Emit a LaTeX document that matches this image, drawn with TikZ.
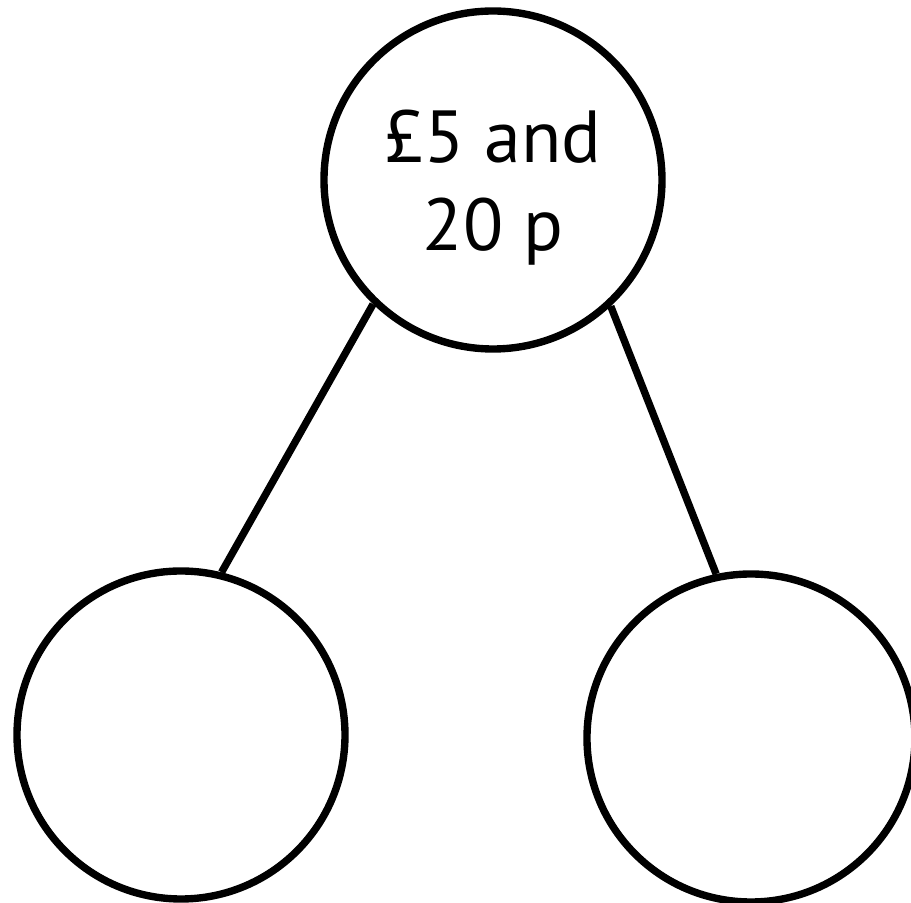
\documentclass[tikz,border=0pt]{standalone}
\usepackage{fontspec}
\setmainfont{PT Sans}
\usepackage{tikz}

\begin{document}
\begin{tikzpicture}[
    top_style/.style={draw, circle, line width=2.1pt, minimum size=3.38cm, inner sep=0pt, text depth=0pt, align=center, font=\fontsize{21}{25}\selectfont},
    part_style/.style={draw, circle, line width=2.1pt, minimum size=3.28cm, inner sep=0pt},
    link_style/.style={line width=2.1pt}
]
    % Fix the page size
    \useasboundingbox (0,0) rectangle (9.11,9.03);

    % Whole amount
    \node (whole) at (4.93,7.23) [top_style] {£5 and\\20 p};

    % The two parts
    \node (part_left) at (1.81,1.68) [part_style] {};
    \node (part_right) at (7.51,1.65) [part_style] {};

    % Join whole to parts
    \draw[link_style] (whole.-134) -- (part_left.76);
    \draw[link_style] (whole.-47) -- (part_right.102);

\end{tikzpicture}
\end{document}
